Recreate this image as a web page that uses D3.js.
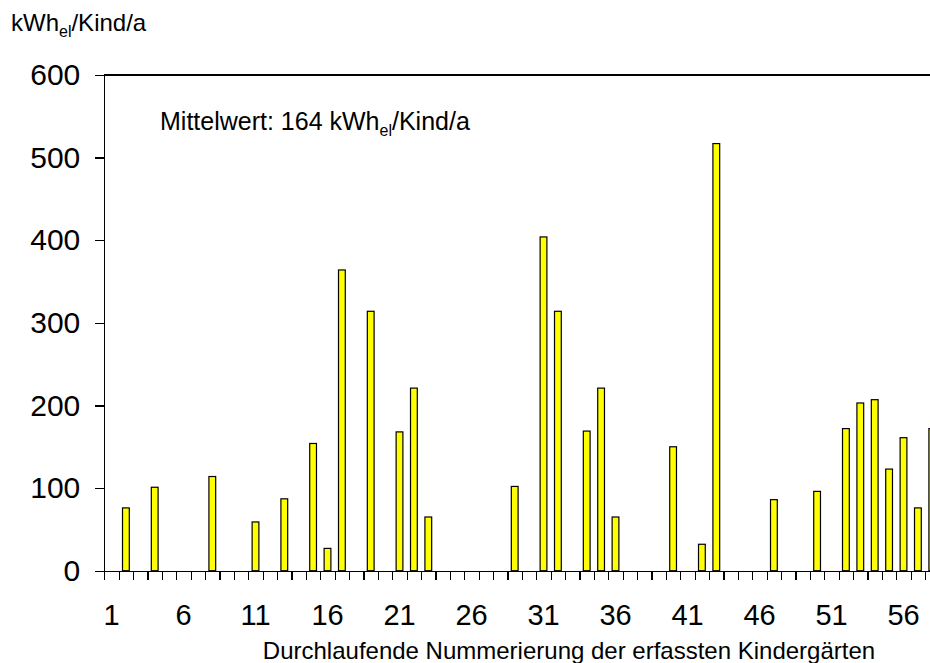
<!DOCTYPE html>
<html>
<head>
<meta charset="utf-8">
<script src="https://cdn.jsdelivr.net/npm/d3@7/dist/d3.min.js"></script>
<style>
  body { margin: 0; background: #fff; }
  svg { display: block; font-family: "Liberation Sans", Arial, sans-serif; }
  .axis { font-family: "Liberation Sans", Arial, sans-serif; }
  .axis path, .axis line { stroke: #000; stroke-width: 1.3; shape-rendering: crispEdges; }
  .axis text { font-size: 29px; fill: #000; }
  .yaxis text { font-size: 30px; }
</style>
</head>
<body>
<svg id="chart" width="930" height="663"></svg>
<script>
// Kindergarten numbers (1..58 visible) and electricity use per child
var kindergarten = d3.range(1, 59);
var kwhPerChild = [
  0, 76, 0, 101, 0, 0, 0, 114, 0, 0,
  59, 0, 87, 0, 154, 27, 364, 0, 314, 0,
  168, 221, 65, 0, 0, 0, 0, 0, 102, 0,
  404, 314, 0, 169, 221, 65, 0, 0, 0, 150,
  0, 32, 517, 0, 0, 0, 86, 0, 0, 96,
  0, 172, 203, 207, 123, 161, 76, 172
];
var yTicks = [0, 100, 200, 300, 400, 500, 600];
var xLabels = [1, 6, 11, 16, 21, 26, 31, 36, 41, 46, 51, 56];

var lPad = 104.3, tPad = 75, baseY = 570.7, slot = 14.4;
var svg = d3.select("#chart");

var x = d3.scaleBand() // one slot per kindergarten
  .domain(kindergarten)
  .range([lPad, lPad + kindergarten.length * slot])
  .paddingInner(0.53)
  .paddingOuter(0.265);
var xEdge = d3.scaleLinear() // slot boundaries for the tick marks
  .domain([0, kindergarten.length])
  .range([lPad, lPad + kindergarten.length * slot]);
var y = d3.scaleLinear()
  .domain([0, 600])
  .range([baseY, tPad]);

// top frame line
svg.append("line")
  .attr("x1", lPad).attr("x2", 960)
  .attr("y1", tPad).attr("y2", tPad)
  .attr("stroke", "#000").attr("stroke-width", 1.3)
  .attr("shape-rendering", "crispEdges");

// bars
svg.append("g")
  .selectAll("rect")
  .data(kindergarten.filter(function(d, i) { return kwhPerChild[i] > 0; }))
  .enter().append("rect")
  .attr("x", function(d) { return x(d); })
  .attr("width", x.bandwidth())
  .attr("y", function(d) { return y(kwhPerChild[d - 1]); })
  .attr("height", function(d) { return baseY - y(kwhPerChild[d - 1]); })
  .attr("fill", "#ffff00")
  .attr("stroke", "#000")
  .attr("stroke-width", 1.2);

// x tick marks between the slots
svg.append("g")
  .attr("class", "axis")
  .attr("transform", "translate(0," + baseY + ")")
  .call(d3.axisBottom(xEdge)
    .tickValues(d3.range(0, kindergarten.length + 1))
    .tickFormat("")
    .tickSize(9)
    .tickSizeOuter(0));

// x labels every fifth kindergarten
var xLab = svg.append("g")
  .attr("class", "axis")
  .attr("transform", "translate(0," + baseY + ")")
  .call(d3.axisBottom(x)
    .tickValues(xLabels)
    .tickSize(0)
    .tickPadding(34));
xLab.select(".domain").remove();

// y axis
svg.append("g")
  .attr("class", "axis yaxis")
  .attr("transform", "translate(" + lPad + ",0)")
  .call(d3.axisLeft(y)
    .tickValues(yTicks)
    .tickSize(9)
    .tickSizeOuter(0)
    .tickPadding(15));

// unit label
var unit = svg.append("text")
  .attr("x", 11).attr("y", 31)
  .attr("font-size", 24);
unit.append("tspan").text("kWh");
unit.append("tspan").attr("font-size", 16).attr("dy", 6).text("el");
unit.append("tspan").attr("dy", -6).text("/Kind/a");

// mean annotation
var mean = svg.append("text")
  .attr("x", 160).attr("y", 130)
  .attr("font-size", 25);
mean.append("tspan").text("Mittelwert: 164 kWh");
mean.append("tspan").attr("font-size", 16).attr("dy", 6).text("el");
mean.append("tspan").attr("dy", -6).text("/Kind/a");

// x axis title
svg.append("text")
  .attr("x", 569).attr("y", 659)
  .attr("text-anchor", "middle")
  .attr("font-size", 24)
  .text("Durchlaufende Nummerierung der erfassten Kindergärten");
</script>
</body>
</html>
